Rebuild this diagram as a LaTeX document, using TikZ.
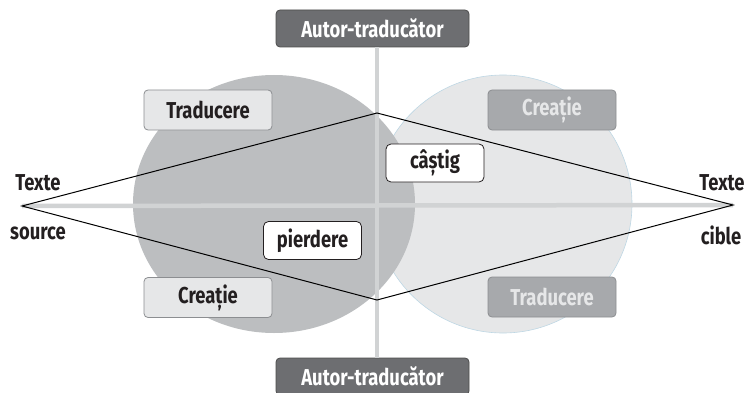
\documentclass[tikz,border=0pt]{standalone}
\usepackage{fontspec}
\setmainfont{Fira Sans}[FakeStretch=0.8]
\definecolor{circledark}{RGB}{188,190,192}
\definecolor{circlelight}{RGB}{230,231,232}
\definecolor{circleedge}{RGB}{190,215,228}
\definecolor{axisgray}{RGB}{209,211,212}
\definecolor{boxdark}{RGB}{109,110,113}
\definecolor{boxmid}{RGB}{167,169,172}
\definecolor{boxedge}{RGB}{140,142,145}
\definecolor{textdark}{RGB}{35,31,32}
\usetikzlibrary{positioning,calc}

\begin{document}
\begin{tikzpicture}[x=1pt, y=-1pt, every node/.style={font=\fontsize{23}{26}\selectfont\bfseries, text=textdark},
    authorbox/.style={draw=black!70, line width=0.8pt, rounded corners=4pt, fill=boxdark, text=white, minimum width=193pt, minimum height=37pt},
    lightbox/.style={draw=boxedge, line width=0.8pt, rounded corners=4pt, fill=circlelight, minimum width=128pt, minimum height=40pt},
    midbox/.style={draw=boxedge, line width=0.8pt, rounded corners=4pt, fill=boxmid, text=circlelight, minimum width=128pt, minimum height=40pt},
    gainbox/.style={draw=textdark, line width=0.8pt, rounded corners=5pt, fill=white, minimum width=98pt, minimum height=38pt},
    axis/.style={axisgray, line width=4.5pt}]
    \useasboundingbox (0,0) rectangle (746,393);
    \clip (0,0) rectangle (746,393);

    % Circles
    \fill[circlelight, draw=circleedge, line width=0.6pt] (503,204) circle (129);
    \fill[circledark] (274,204) ellipse (141 and 129);

    % Corners of the diamond
    \coordinate (src) at (22,206);
    \coordinate (tgt) at (733,205);
    \coordinate (top) at (377,113);
    \coordinate (bot) at (377,300);

    % Authors
    \node[authorbox] (authtop) at (372.5,28.5) {Autor-traducător};
    \node[authorbox] (authbot) at (372.5,376.5) {Autor-traducător};

    % Axes
    \draw[axis] (top |- authtop.south) -- (bot |- authbot.north);
    \draw[axis] (src) -- (tgt);

    % Diamond
    \draw[black, line width=1pt] (src) -- (top) -- (tgt) -- (bot) -- cycle;

    % Boxes
    \node[lightbox] (tradleft) at (208,110) {Traducere};
    \node[lightbox] (crealeft) at (208,297.5) {Creație};
    \node[midbox] (crearight) at (552,110) {Creație};
    \node[midbox] (tradright) at (552,297) {Traducere};
    \node[gainbox] (gain) at (435,163) {câștig};
    \node[gainbox] (loss) at (312.5,240.5) {pierdere};

    % Texts at the ends
    \node[anchor=base] (srcup) at (38,190) {Texte};
    \node[anchor=base] (srcdown) at (38,239) {source};
    \node[anchor=base] (tgtup) at (722,190) {Texte};
    \node[anchor=base] (tgtdown) at (721,244) {cible};
\end{tikzpicture}
\end{document}
